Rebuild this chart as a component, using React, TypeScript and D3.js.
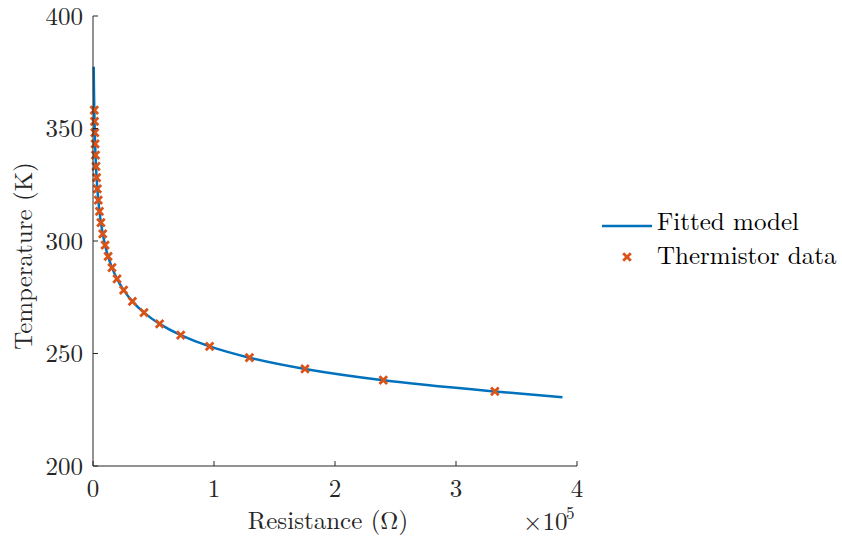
import React from "react";
import * as d3 from "d3";

// Thermistor data (resistance in ohms, temperature in K)
const dataR = [332094, 239900, 175200, 129287, 96358, 72500, 55046, 42157, 32554, 25339, 19872, 15698, 12488, 10000, 8059, 6535, 5330, 4372, 3605, 2989, 2490, 2084, 1753, 1481, 1256, 1070];
const dataT = [233.15, 238.15, 243.15, 248.15, 253.15, 258.15, 263.15, 268.15, 273.15, 278.15, 283.15, 288.15, 293.15, 298.15, 303.15, 308.15, 313.15, 318.15, 323.15, 328.15, 333.15, 338.15, 343.15, 348.15, 353.15, 358.15];

// Fitted model curve samples
const curveR = [600, 800, 1070, 1500, 2000, 3000, 4000, 5330, 7000, 10000, 12488, 15698, 19872, 25339, 32554, 42157, 55046, 72500, 96358, 129287, 175200, 239900, 332094, 388000];
const curveT = [377.4, 367.8, 358.15, 347.6, 339.1, 327.9, 320.5, 313.15, 306.5, 298.15, 293.15, 288.15, 283.15, 278.15, 273.15, 268.15, 263.15, 258.15, 253.15, 248.15, 243.15, 238.15, 233.15, 230.6];

const xTicks = [0, 1, 2, 3, 4];
const yTicks = [200, 250, 300, 350, 400];
const legendLabels = ["Fitted model", "Thermistor data"];

const FONT = "'Latin Modern Roman', 'CMU Serif', 'Liberation Serif', serif";
const AX = "#262626";
const BLUE = "#0072BD";
const ORANGE = "#D95319";
const FS = 25;

export default function App() {
  const W = 842, H = 541;
  const x = d3.scaleLinear().domain([0, 4e5]).range([93, 577]);
  const y = d3.scaleLinear().domain([200, 400]).range([466, 16]);
  const line = d3
    .line<number>()
    .x((i) => x(curveR[i]))
    .y((i) => y(curveT[i]))
    .curve(d3.curveCatmullRom.alpha(0.5));
  const idx = d3.range(curveR.length);
  const s = 3.8;
  const cross = (cx: number, cy: number, k: string | number) => (
    <path
      key={k}
      d={`M${cx - s},${cy - s}L${cx + s},${cy + s}M${cx - s},${cy + s}L${cx + s},${cy - s}`}
      stroke={ORANGE}
      strokeWidth={2.8}
      fill="none"
    />
  );
  const [x0, x1] = x.range();
  const [y0, y1] = y.range();
  return (
    <svg width={W} height={H} style={{ position: "absolute", left: 0, top: 0, background: "#fff" }} fontFamily={FONT}>
      <rect width={W} height={H} fill="#fff" />
      <path d={line(idx) || ""} fill="none" stroke={BLUE} strokeWidth={2.5} />
      {dataR.map((r, i) => cross(x(r), y(dataT[i]), i))}
      {/* axes */}
      <line x1={x0} x2={x1} y1={y0} y2={y0} stroke={AX} strokeWidth={1} />
      <line x1={x0} x2={x0} y1={y0} y2={y1} stroke={AX} strokeWidth={1} />
      {xTicks.map((t) => (
        <g key={"x" + t}>
          <line x1={x(t * 1e5)} x2={x(t * 1e5)} y1={y0} y2={y0 - 5} stroke={AX} strokeWidth={1} />
          <text x={x(t * 1e5)} y={y0 + 31} textAnchor="middle" fontSize={FS} fill={AX}>
            {t}
          </text>
        </g>
      ))}
      {yTicks.map((t) => (
        <g key={"y" + t}>
          <line x1={x0} x2={x0 + 5} y1={y(t)} y2={y(t)} stroke={AX} strokeWidth={1} />
          <text x={x0 - 10} y={y(t) + 8.5} textAnchor="end" fontSize={FS} fill={AX}>
            {t}
          </text>
        </g>
      ))}
      <text x={328} y={529} textAnchor="middle" fontSize={FS} fill={AX}>
        Resistance (Ω)
      </text>
      <text x={523} y={530} fontSize={FS} fill={AX}>
        ×10
      </text>
      <text x={566} y={519} fontSize={17} fill={AX}>
        5
      </text>
      <text transform="translate(32,256) rotate(-90)" textAnchor="middle" fontSize={FS} fill={AX}>
        Temperature (K)
      </text>
      {/* legend */}
      <line x1={602} x2={652} y1={226} y2={226} stroke={BLUE} strokeWidth={2.5} />
      <text x={657} y={230} fontSize={FS} fill="#000">
        {legendLabels[0]}
      </text>
      {cross(627, 257, "leg")}
      <text x={657} y={264} fontSize={FS} fill="#000">
        {legendLabels[1]}
      </text>
    </svg>
  );
}
